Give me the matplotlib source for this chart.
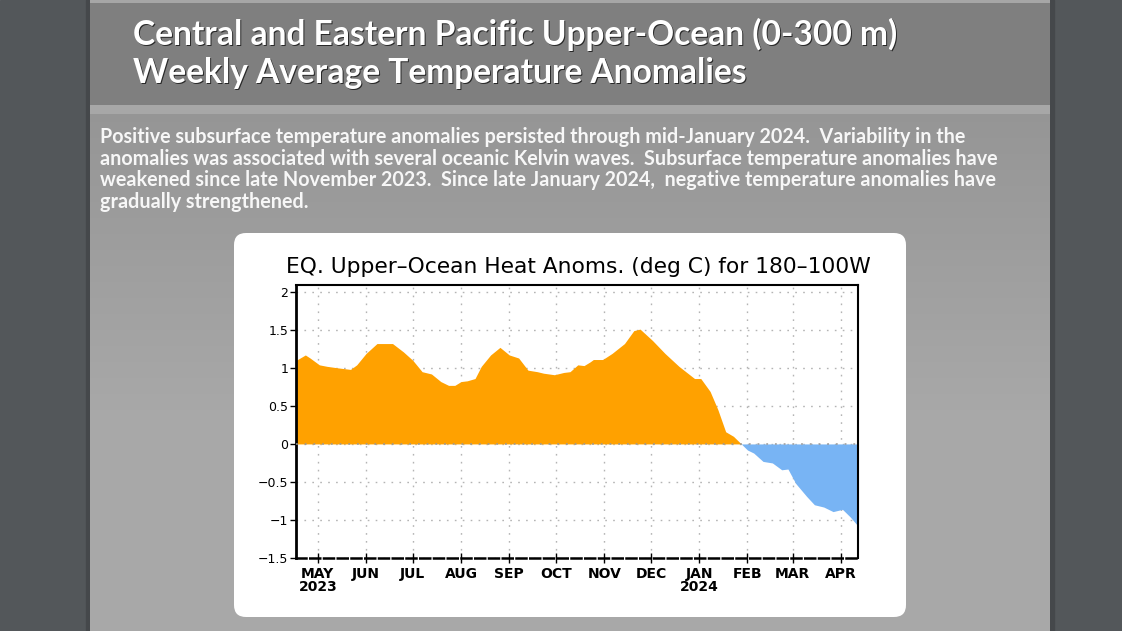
import matplotlib
matplotlib.use("Agg")
import matplotlib.pyplot as plt
import numpy as np
import pandas as pd
from matplotlib.patches import Rectangle, FancyBboxPatch
from matplotlib import font_manager as fm
import matplotlib.colors as mcolors

# ---------------- data ----------------
dates = ["2023-04-17", "2023-04-18", "2023-04-23", "2023-04-26",
         "2023-05-02", "2023-05-07", "2023-05-14", "2023-05-22", "2023-05-26",
         "2023-06-01", "2023-06-08", "2023-06-18", "2023-06-25",
         "2023-07-01", "2023-07-07", "2023-07-13", "2023-07-19", "2023-07-24", "2023-07-28",
         "2023-08-01", "2023-08-05", "2023-08-10", "2023-08-14", "2023-08-20", "2023-08-26",
         "2023-09-01", "2023-09-07", "2023-09-13", "2023-09-19", "2023-09-23", "2023-09-30",
         "2023-10-06", "2023-10-10", "2023-10-15", "2023-10-19", "2023-10-23", "2023-10-25", "2023-10-31",
         "2023-11-06", "2023-11-14", "2023-11-20", "2023-11-24",
         "2023-12-02", "2023-12-10", "2023-12-19", "2023-12-24", "2023-12-29",
         "2024-01-02", "2024-01-08", "2024-01-13", "2024-01-18", "2024-01-23", "2024-01-28",
         "2024-02-01", "2024-02-05", "2024-02-11", "2024-02-17", "2024-02-23", "2024-02-27",
         "2024-03-03", "2024-03-10", "2024-03-15", "2024-03-21", "2024-03-27",
         "2024-04-02", "2024-04-07", "2024-04-12"]
anomalies = [1.10, 1.11, 1.17, 1.13,
             1.04, 1.02, 1.00, 0.98, 1.04,
             1.19, 1.32, 1.32, 1.21,
             1.10, 0.95, 0.92, 0.82, 0.77, 0.77,
             0.82, 0.83, 0.86, 1.02, 1.17, 1.27,
             1.17, 1.13, 0.97, 0.95, 0.93, 0.91,
             0.94, 0.95, 1.04, 1.03, 1.08, 1.11, 1.11,
             1.19, 1.32, 1.49, 1.51,
             1.36, 1.19, 1.02, 0.94, 0.86,
             0.86, 0.69, 0.45, 0.16, 0.10, 0.00,
             -0.08, -0.12, -0.23, -0.25, -0.34, -0.33,
             -0.52, -0.69, -0.80, -0.83, -0.89,
             -0.86, -0.96, -1.08]
month_ticks = ["2023-05-01", "2023-06-01", "2023-07-01", "2023-08-01", "2023-09-01",
               "2023-10-01", "2023-11-01", "2023-12-01", "2024-01-01", "2024-02-01",
               "2024-03-01", "2024-04-01"]
month_labels = ["MAY\n2023", "JUN", "JUL", "AUG", "SEP", "OCT", "NOV", "DEC",
                "JAN\n2024", "FEB", "MAR", "APR"]
y_ticks = [-1.5, -1, -0.5, 0, 0.5, 1, 1.5, 2]
y_labels = ["\u22121.5", "\u22121", "\u22120.5", "0", "0.5", "1", "1.5", "2"]

slide_title = ["Central and Eastern Pacific Upper-Ocean (0-300 m)",
               "Weekly Average Temperature Anomalies"]
body_lines = ["Positive subsurface temperature anomalies persisted through mid-January 2024.  Variability in the",
              "anomalies was associated with several oceanic Kelvin waves.  Subsurface temperature anomalies have",
              "weakened since late November 2023.  Since late January 2024,  negative temperature anomalies have",
              "gradually strengthened."]
chart_title = "EQ. Upper\u2013Ocean Heat Anoms. (deg C) for 180\u2013100W"

# ---------------- fonts ----------------
names = {f.name for f in fm.fontManager.ttflist}
def pick(*cands):
    for c in cands:
        if c in names:
            return c
    return "DejaVu Sans"
slide_font = pick("Lato", "Open Sans", "Noto Sans")
cond_font = pick("DejaVu Sans Condensed", "Liberation Sans Narrow", "DejaVu Sans")

W, H = 1122, 631
fig = plt.figure(figsize=(W / 100, H / 100), dpi=100)
renderer = fig.canvas.get_renderer()

bg = fig.add_axes([0, 0, 1, 1])
bg.set_xlim(0, W)
bg.set_ylim(H, 0)
bg.axis("off")

# outer background
bg.add_patch(Rectangle((0, 0), W, H, color="#53575a", zorder=0))
# panel shadows
bg.add_patch(Rectangle((86, 0), 4, H, color="#45484b", zorder=0.5))
bg.add_patch(Rectangle((1050, 0), 4, H, color="#45484b", zorder=0.5))
# body gradient
c0 = np.array(mcolors.to_rgb("#959595"))
c1 = np.array(mcolors.to_rgb("#a8a8a8"))
y = 114
while y < H:
    t = min(1.0, (y - 114) / 300.0)
    col = c0 * (1 - t) + c1 * t
    bg.add_patch(Rectangle((90, y), 960, 5, color=col, lw=0, zorder=1))
    y += 4
# header band and stripes
bg.add_patch(Rectangle((90, 0), 960, 3, color="#a6a6a6", lw=0, zorder=1))
bg.add_patch(Rectangle((90, 3), 960, 102, color="#7f7f7f", lw=0, zorder=1))
bg.add_patch(Rectangle((90, 105), 960, 9, color="#a7a7a7", lw=0, zorder=1))

# white rounded box
bg.add_patch(FancyBboxPatch((234, 233), 672, 384,
                            boxstyle="round,pad=0,rounding_size=12",
                            fc="white", ec="none", zorder=2))

def fit(t, width):
    bb = t.get_window_extent(renderer)
    t.set_fontsize(t.get_fontsize() * width / bb.width)

# slide title with shadow
tt = []
for i, (line, yb) in enumerate(zip(slide_title, [45, 83])):
    t = bg.text(133, yb, line, color="white", fontsize=22, fontweight="bold",
                family=slide_font, va="baseline", ha="left", zorder=4)
    tt.append(t)
fit(tt[0], 764)
for t in tt[1:]:
    t.set_fontsize(tt[0].get_fontsize())
for t, yb in zip(tt, [45, 83]):
    bg.text(134.5, yb + 1.5, t.get_text(), color="#1a1a1a", alpha=0.85,
            fontsize=t.get_fontsize(), fontweight="bold", family=slide_font,
            va="baseline", ha="left", zorder=3)

# body text
bl = []
for i, line in enumerate(body_lines):
    t = bg.text(100, 143 + i * 21.7, line, color="#f7f7f7", fontsize=13,
                fontweight="bold", family=slide_font, va="baseline", ha="left", zorder=4)
    bl.append(t)
fit(bl[1], 898)
for t in bl:
    t.set_fontsize(bl[1].get_fontsize())

# chart title
ct = bg.text(578.5, 273, chart_title, color="black", fontsize=15,
             family="DejaVu Sans", va="baseline", ha="center", zorder=4)
fit(ct, 583)

# ---------------- chart ----------------
ax = fig.add_axes([296 / W, 1 - 558 / H, (858 - 296) / W, (558 - 285) / H], zorder=5)
ax.patch.set_alpha(0)
x = pd.to_datetime(dates)
v = np.array(anomalies)
ax.fill_between(x, v, 0, where=v >= 0, interpolate=True, color="#ffa100", lw=0, zorder=2)
ax.fill_between(x, v, 0, where=v <= 0, interpolate=True, color="#78b4f4", lw=0, zorder=2)
ax.axhline(0, color="#999999", ls=(0, (1.2, 4.5)), lw=1.1, zorder=3)

ax.set_xlim(x[0], x[-1])
ax.set_ylim(-1.5, 2.09)
ax.set_xticks(pd.to_datetime(month_ticks))
ax.set_xticklabels(month_labels, family=cond_font, fontsize=10, fontweight="bold",
                   linespacing=0.9)
ax.set_yticks(y_ticks)
ax.set_yticklabels(y_labels, family="DejaVu Sans", fontsize=9)
ax.set_axisbelow(True)
ax.grid(True, color="#b4b4b4", ls=(0, (1.2, 4.5)), lw=1.0)
ax.tick_params(axis="y", direction="out", length=4, width=1, pad=1.5)
ax.tick_params(axis="x", direction="inout", length=7, width=1, pad=3)
for s in ["top", "right"]:
    ax.spines[s].set_linewidth(1.5)
ax.spines["left"].set_linewidth(2)
ax.spines["bottom"].set_linewidth(1.8)
ax.spines["bottom"].set_linestyle((0, (4, 1.5)))

fig.savefig("out.png", dpi=100)
